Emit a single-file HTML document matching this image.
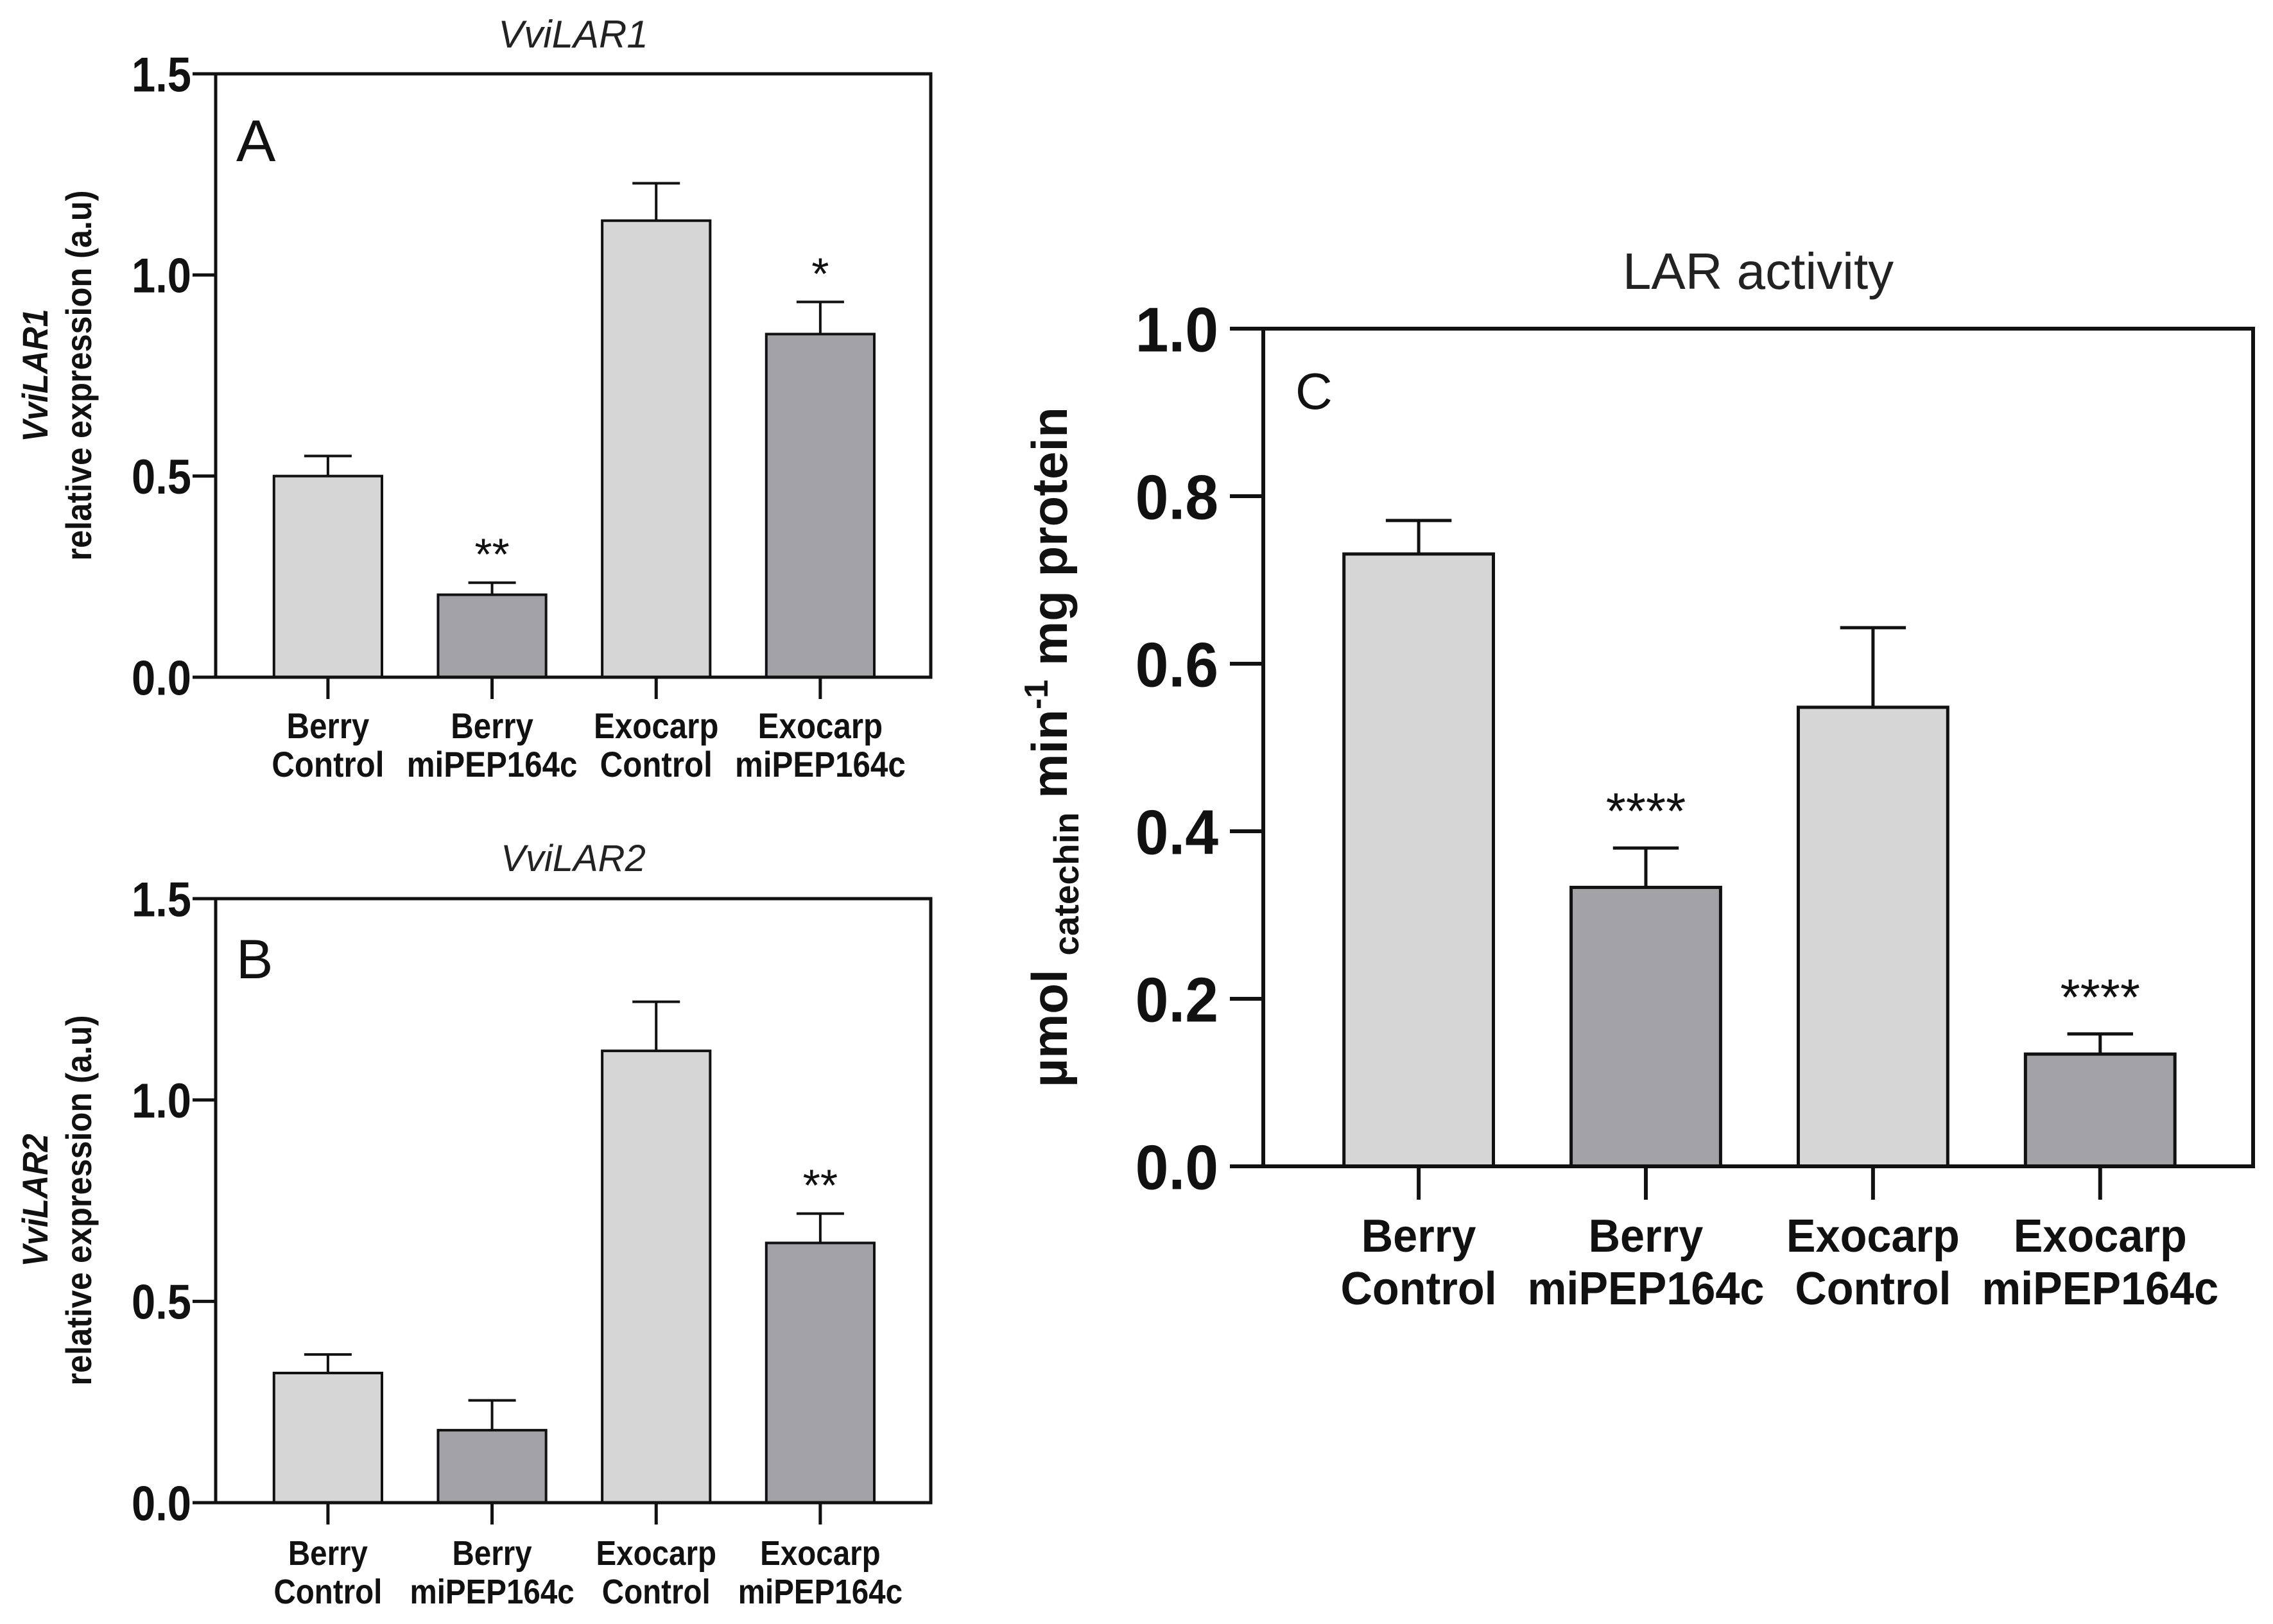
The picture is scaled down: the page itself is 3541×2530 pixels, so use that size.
<!DOCTYPE html>
<html><head><meta charset="utf-8"><style>
html,body{margin:0;padding:0;background:#fff;}
svg{display:block;font-family:"Liberation Sans",Arial,sans-serif;}
</style></head><body>
<svg id="fig" width="3541" height="2530" viewBox="0 0 3541 2530" xmlns="http://www.w3.org/2000/svg"></svg>
<script>
const categories = [["Berry","Control"],["Berry","miPEP164c"],["Exocarp","Control"],["Exocarp","miPEP164c"]];
const valuesA = [0.50, 0.205, 1.135, 0.853];
const errorsA = [0.05, 0.03, 0.093, 0.08];
const starsA = ["", "**", "", "*"];
const valuesB = [0.322, 0.18, 1.122, 0.645];
const errorsB = [0.046, 0.074, 0.122, 0.073];
const starsB = ["", "", "", "**"];
const valuesC = [0.731, 0.333, 0.548, 0.134];
const errorsC = [0.04, 0.047, 0.095, 0.024];
const starsC = ["", "****", "", "****"];
const ticksAB = [0, 0.5, 1.0, 1.5];
const tickLabelsAB = ["0.0","0.5","1.0","1.5"];
const ticksC = [0, 0.2, 0.4, 0.6, 0.8, 1.0];
const tickLabelsC = ["0.0","0.2","0.4","0.6","0.8","1.0"];
const fills = ["#d6d6d6","#a3a2a7","#d6d6d6","#a3a2a7"];

const NS = "http://www.w3.org/2000/svg";
const svg = document.getElementById('fig');
function mk(tag, attrs, parent, txt){
  const e = document.createElementNS(NS, tag);
  for (const k in attrs) e.setAttribute(k, attrs[k]);
  if (txt !== undefined) e.textContent = txt;
  (parent || svg).appendChild(e);
  return e;
}

function panel(p){
  const g = mk('g', {});
  
  
  const W = p.x1 - p.x0, H = p.y1 - p.y0;
  const ys = v => p.y1 - (v - p.ymin) / (p.ymax - p.ymin) * H;
  const xc = i => p.x0 + W * (0.157 + 0.2295 * i);
  const bw = W * 0.151;
  p.values.forEach((v, i) => {
    const top = ys(v + p.errors[i]);
    const el = mk('line', {x1:xc(i), x2:xc(i), y1:ys(v), y2:top, stroke:'#111', 'stroke-width':p.lw}, g);
    
    
    const cap = mk('line', {x1:xc(i)-bw*0.22, x2:xc(i)+bw*0.22, y1:top, y2:top, stroke:'#111', 'stroke-width':p.lw}, g);
    
    
    const r = mk('rect', {x:xc(i)-bw/2, y:ys(v), width:bw, height:ys(p.ymin)-ys(v), fill:fills[i], stroke:'#111', 'stroke-width':p.lw}, g);
    
    
    if (p.stars[i]) {
      const s = mk('text', {x:xc(i), y:top - p.starGap, 'text-anchor':'middle', 'font-size':p.starFs, fill:'#111'}, g, p.stars[i]);
      
      
    }
  });
  const f = mk('rect', {x:p.x0, y:p.y0, width:W, height:H, fill:'none', stroke:'#111', 'stroke-width':p.fw}, g);
  
  
  p.ticks.forEach((t, i) => {
    mk('line', {x1:p.x0 - p.tickLen, x2:p.x0, y1:ys(t), y2:ys(t), stroke:'#111', 'stroke-width':p.fw}, g);
    const tl = mk('text', {transform:'translate(' + p.labelRight + ',' + (ys(t) + p.tickFs*0.36) + ') scale(' + p.sx + ',1)', 'text-anchor':'end', 'font-size':p.tickFs, 'font-weight':'bold', fill:'#111'}, g, p.tickLabels[i]);
    
    
  });
  categories.forEach((c, i) => {
    mk('line', {x1:xc(i), x2:xc(i), y1:p.y1, y2:p.y1 + p.xTickLen, stroke:'#111', 'stroke-width':p.fw}, g);
    const t = mk('text', {transform:'translate(' + xc(i) + ',0) scale(' + p.sx + ',1)', 'text-anchor':'middle', 'font-size':p.xFs, 'font-weight':'bold', fill:'#111'}, g);
    
    
    mk('tspan', {x:0, y:p.xl1}, t, c[0]);
    mk('tspan', {x:0, y:p.xl2}, t, c[1]);
  });
  const L = mk('text', {x:p.x0 + p.letterDx, y:p.y0 + p.letterDy, 'font-size':p.letterFs, fill:'#111'}, g, p.letter);
  
  
  const T = mk('text', {x:(p.x0+p.x1)/2, y:p.titleY, 'text-anchor':'middle', 'font-size':p.titleFs, 'font-style':p.titleItalic?'italic':'normal', fill:'#222'}, g, p.title);
  
  
  return {g, ys};
}

panel({name:'panel-a', x0:336, x1:1450, y0:115, y1:1055, ymin:0, ymax:1.5, values:valuesA, errors:errorsA, stars:starsA, sx:0.88,
  ticks:ticksAB, tickLabels:tickLabelsAB, lw:4, fw:5, tickLen:36, labelRight:298, tickFs:76, xTickLen:34, xFs:56, xl1:1150, xl2:1210,
  letter:'A', letterDx:32, letterDy:136, letterFs:92, title:'VviLAR1', titleItalic:true, titleY:74, titleFs:60, starFs:70, starGap:20});
panel({name:'panel-b', x0:336, x1:1450, y0:1400, y1:2341, ymin:0, ymax:1.5, values:valuesB, errors:errorsB, stars:starsB, sx:0.88,
  ticks:ticksAB, tickLabels:tickLabelsAB, lw:4, fw:5, tickLen:36, labelRight:298, tickFs:76, xTickLen:34, xFs:54, xl1:2438, xl2:2498,
  letter:'B', letterDx:32, letterDy:124, letterFs:86, title:'VviLAR2', titleItalic:true, titleY:1357, titleFs:58, starFs:70, starGap:20});
panel({name:'panel-c', x0:1968, x1:3510, y0:512, y1:1817, ymin:0, ymax:1.0, values:valuesC, errors:errorsC, stars:starsC, sx:0.95,
  ticks:ticksC, tickLabels:tickLabelsC, lw:5, fw:6, tickLen:52, labelRight:1898, tickFs:98, xTickLen:52, xFs:72, xl1:1950, xl2:2032,
  letter:'C', letterDx:50, letterDy:125, letterFs:80, title:'LAR activity', titleItalic:false, titleY:450, titleFs:80, starFs:80, starGap:30});

let yt = mk('text', {transform:'translate(74,585) rotate(-90) scale(0.9,1)', 'text-anchor':'middle', 'font-size':56, 'font-weight':'bold', 'font-style':'italic', fill:'#111'}, svg, 'VviLAR1');


yt = mk('text', {transform:'translate(142,585) rotate(-90) scale(0.9,1)', 'text-anchor':'middle', 'font-size':56, 'font-weight':'bold', fill:'#111'}, svg, 'relative expression (a.u)');


yt = mk('text', {transform:'translate(74,1870) rotate(-90) scale(0.9,1)', 'text-anchor':'middle', 'font-size':56, 'font-weight':'bold', 'font-style':'italic', fill:'#111'}, svg, 'VviLAR2');


yt = mk('text', {transform:'translate(142,1870) rotate(-90) scale(0.9,1)', 'text-anchor':'middle', 'font-size':56, 'font-weight':'bold', fill:'#111'}, svg, 'relative expression (a.u)');


yt = mk('text', {transform:'translate(1662,1164) rotate(-90)', 'text-anchor':'middle', 'font-size':78, 'font-weight':'bold', fill:'#111'}, svg);


mk('tspan', {}, yt, 'µmol ');
mk('tspan', {'font-size':55, dy:18}, yt, 'catechin');
mk('tspan', {dy:-18}, yt, ' min');
mk('tspan', {'font-size':52, dy:-30}, yt, '-1');
mk('tspan', {dy:30}, yt, ' mg protein');
</script>
</body></html>
